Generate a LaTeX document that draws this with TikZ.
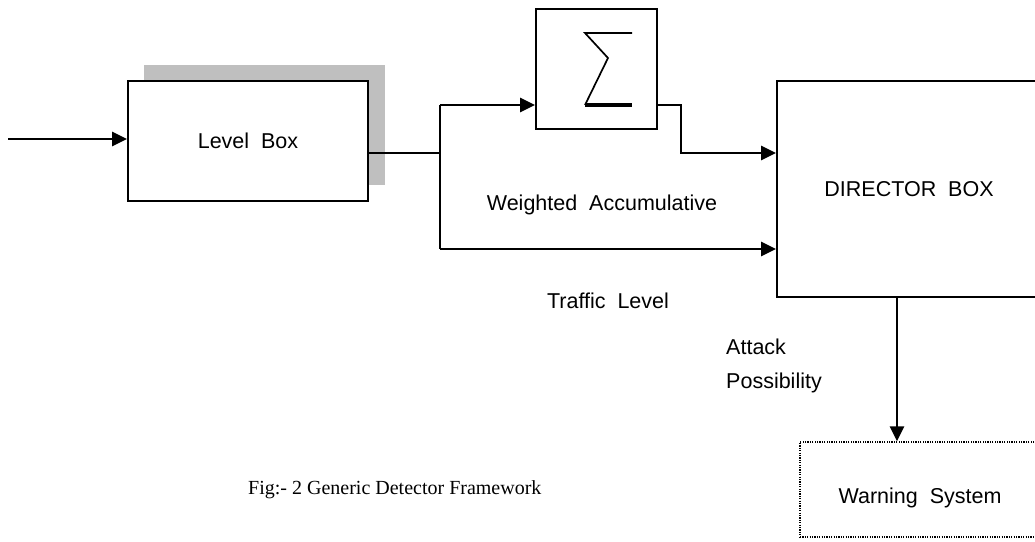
\documentclass[tikz,border=0pt]{standalone}
\usepackage{fontspec}
\setmainfont{Liberation Sans}
\newfontfamily\capfont{Liberation Serif}
\usetikzlibrary{arrows.meta,calc}

\tikzset{
  blk/.style={draw=black, line width=1.9pt, fill=white, inner sep=0pt,
              font=\fontsize{21.5}{24}\selectfont},
  dotbox/.style={draw=black, line width=1.3pt, dash pattern=on 1.2pt off 1.2pt,
                 fill=white, inner sep=0pt},
  lbl/.style={inner sep=0pt, font=\fontsize{21.5}{24}\selectfont},
  conn/.style={line width=2.2pt},
  flow/.style={line width=2.5pt, -{Triangle[length=15pt,width=14pt]}},
  shade/.style={fill=black!25, draw=none}
}

\begin{document}
\begin{tikzpicture}[x=1pt, y=-1pt]
\useasboundingbox (0,0) rectangle (1035,541);
\clip (0,0) rectangle (1035,541);

% shadow behind the level box
\fill[shade] (144,65) rectangle (385,185);

% blocks
\node[blk, minimum width=240pt, minimum height=120pt] (lvl) at (248,141) {Level~~Box};
\node[blk, minimum width=121pt, minimum height=120pt] (sum) at (596.5,69) {};
\node[blk, minimum width=264pt, minimum height=216pt] (dir) at (909,189) {DIRECTOR~~BOX};
\node[dotbox, minimum width=240pt, minimum height=95pt] (warn) at (920,489.5) {};
\node[lbl] (warntext) at (920,498) {Warning~~System};

% summation sign inside the sum block
\draw[line width=1.7pt, line join=miter]
  ($(sum.center)+(35.5,-36)$) -- ($(sum.center)+(-11.5,-36)$)
  -- ($(sum.center)+(11.5,-11)$) -- ($(sum.center)+(-11.5,36)$);
\draw[line width=4pt] ($(sum.center)+(-11.5,36)$) -- ($(sum.center)+(35.5,36)$);

% junction points
\coordinate (src) at (8,139);
\coordinate (jmid) at (440,153);
\coordinate (jtop) at (440,105);
\coordinate (jbot) at (440,249);
\coordinate (bend) at (681,105);

% connectors
\draw[flow] (src) -- (src -| lvl.west);
\draw[conn] (lvl.east |- jmid) -- (jmid);
\draw[conn] (jtop) -- (jbot);
\draw[flow] (jtop) -- (jtop -| sum.west);
\draw[flow] (sum.east |- bend) -- (bend) -- (681,153) -- (dir.west |- 681,153);
\draw[flow] (jbot) -- (jbot -| dir.west);
\draw[flow] (dir.south -| 897,0) -- (warn.north -| 897,0);

% labels
\node[lbl] (wacc) at (602,205) {Weighted~~Accumulative};
\node[lbl] (tlev) at (608,301) {Traffic~~Level};
\node[lbl, anchor=west] (att) at (726,347) {Attack};
\node[lbl, anchor=west] (poss) at (726,383) {Possibility};
\node[inner sep=0pt, anchor=west, font=\capfont\fontsize{20}{22}\selectfont] (cap) at (248,490)
  {Fig:- 2 Generic Detector Framework};
\end{tikzpicture}
\end{document}
